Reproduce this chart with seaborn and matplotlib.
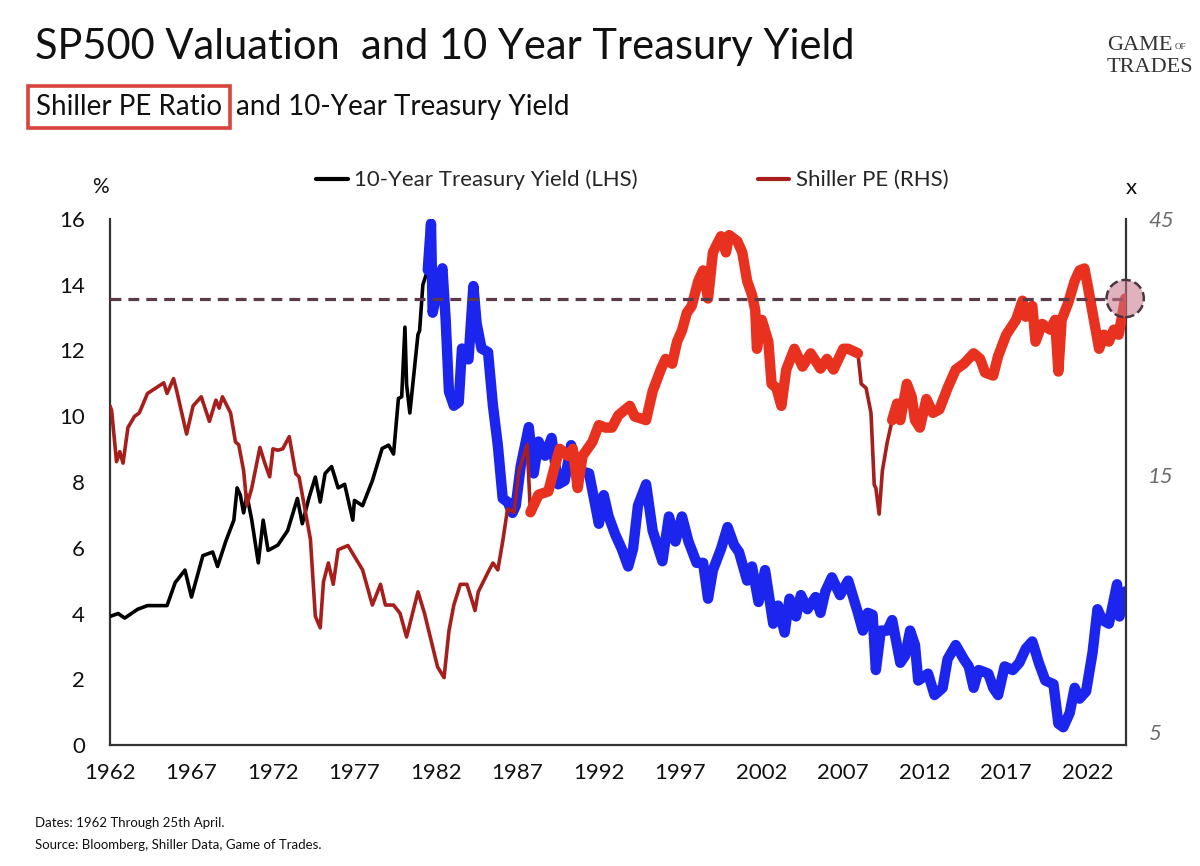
import numpy as np
import pandas as pd
import matplotlib
matplotlib.use("Agg")
import matplotlib.pyplot as plt
import seaborn as sns
from matplotlib.lines import Line2D
from matplotlib.ticker import FixedLocator, FixedFormatter, NullLocator

# ---------------- data ----------------
yield_years = [1962.0, 1962.5, 1962.9, 1963.7, 1964.3, 1965.5, 1966.0, 1966.6, 1967.0, 1967.7,
               1968.3, 1968.6, 1969.1, 1969.6, 1969.8, 1970.0, 1970.2, 1970.4, 1970.7, 1971.1,
               1971.4, 1971.7, 1972.3, 1972.9, 1973.5, 1973.8, 1974.2, 1974.4, 1974.6, 1974.9,
               1975.2, 1975.6, 1976.0, 1976.4, 1976.9, 1977.0, 1977.5, 1978.1, 1978.7, 1979.1,
               1979.4, 1979.7, 1979.9, 1980.1, 1980.2, 1980.4, 1980.9, 1981.0, 1981.2, 1981.5,
               1981.7, 1981.8, 1982.1, 1982.4, 1982.6, 1982.8, 1983.1, 1983.4, 1983.6, 1984.0,
               1984.3, 1984.5, 1984.8, 1985.2, 1985.5, 1985.8, 1986.1, 1986.4, 1986.7, 1986.9,
               1987.2, 1987.7, 1988.0, 1988.3, 1988.7, 1989.1, 1989.5, 1989.9, 1990.3, 1990.7,
               1991.4, 1991.7, 1992.0, 1992.3, 1992.6, 1993.0, 1993.4, 1993.8, 1994.1, 1994.4,
               1994.9, 1995.3, 1995.9, 1996.3, 1996.7, 1997.1, 1997.5, 1998.0, 1998.4, 1998.7,
               1999.0, 1999.5, 1999.9, 2000.3, 2000.6, 2001.1, 2001.4, 2001.8, 2002.2, 2002.7,
               2003.0, 2003.4, 2003.7, 2004.1, 2004.4, 2004.8, 2005.3, 2005.6, 2005.9, 2006.3,
               2006.8, 2007.3, 2007.9, 2008.2, 2008.5, 2008.8, 2009.0, 2009.3, 2009.7, 2010.0,
               2010.5, 2010.8, 2011.1, 2011.4, 2011.6, 2012.2, 2012.6, 2013.1, 2013.4, 2013.9,
               2014.4, 2014.7, 2015.0, 2015.3, 2015.6, 2015.9, 2016.2, 2016.5, 2016.9, 2017.4,
               2017.8, 2018.2, 2018.6, 2019.0, 2019.4, 2019.9, 2020.2, 2020.5, 2020.9, 2021.2,
               2021.5, 2021.9, 2022.3, 2022.6, 2022.9, 2023.3, 2023.8, 2023.95, 2024.3]
yield_values = [3.91, 4.00, 3.86, 4.13, 4.24, 4.24, 4.94, 5.32, 4.50, 5.76,
                5.87, 5.43, 6.19, 6.84, 7.82, 7.60, 7.06, 7.60, 6.84, 5.54,
                6.84, 5.92, 6.08, 6.52, 7.50, 6.73, 7.50, 7.82, 8.15, 7.39,
                8.26, 8.47, 7.82, 7.93, 6.84, 7.44, 7.28, 8.04, 9.02, 9.12,
                8.85, 10.54, 10.59, 12.71, 10.97, 10.10, 12.49, 12.60, 14.00, 14.45,
                15.86, 13.15, 13.90, 14.50, 12.93, 10.75, 10.32, 10.43, 12.06, 11.73,
                13.96, 12.82, 12.06, 11.95, 10.32, 9.12, 7.50, 7.39, 7.06, 7.28,
                8.47, 9.67, 8.26, 9.23, 8.80, 9.34, 7.93, 8.04, 9.12, 8.36,
                8.26, 7.50, 6.73, 7.60, 6.95, 6.41, 5.97, 5.43, 5.97, 7.28,
                7.93, 6.52, 5.59, 6.95, 6.19, 6.95, 6.19, 5.54, 5.54, 4.45,
                5.32, 5.97, 6.63, 6.08, 5.87, 5.00, 5.43, 4.35, 5.32, 3.69,
                4.24, 3.42, 4.45, 3.91, 4.56, 4.13, 4.50, 4.02, 4.67, 5.10,
                4.56, 5.00, 4.02, 3.48, 4.02, 3.96, 2.28, 3.48, 3.48, 3.80,
                2.50, 2.72, 3.48, 3.04, 1.96, 2.17, 1.52, 1.74, 2.61, 3.04,
                2.61, 2.39, 1.74, 2.28, 2.23, 2.17, 1.74, 1.52, 2.39, 2.28,
                2.50, 2.93, 3.15, 2.50, 1.96, 1.85, 0.65, 0.54, 0.98, 1.74,
                1.41, 1.63, 2.82, 4.13, 3.80, 3.69, 4.89, 3.91, 4.67]

pe_years = [1962.0, 1962.1, 1962.4, 1962.6, 1962.8, 1963.1, 1963.5, 1963.8, 1964.3, 1964.8,
            1965.3, 1965.5, 1965.9, 1966.1, 1966.7, 1967.1, 1967.6, 1968.1, 1968.5, 1968.7,
            1968.9, 1969.4, 1969.7, 1969.9, 1970.2, 1970.4, 1970.7, 1971.2, 1971.5, 1971.8,
            1972.0, 1972.3, 1972.6, 1973.0, 1973.4, 1973.6, 1974.0, 1974.3, 1974.6, 1974.9,
            1975.1, 1975.4, 1975.7, 1976.0, 1976.6, 1977.0, 1977.5, 1978.1, 1978.6, 1978.9,
            1979.4, 1979.8, 1980.2, 1980.9, 1981.3, 1981.8, 1982.1, 1982.5, 1982.8, 1983.1,
            1983.5, 1983.9, 1984.2, 1984.4, 1984.6, 1985.2, 1985.5, 1985.8, 1986.1, 1986.4,
            1986.8, 1987.1, 1987.6, 1987.8, 1988.3, 1988.9, 1989.3, 1989.6, 1990.1, 1990.4,
            1990.7, 1991.0, 1991.6, 1992.0, 1992.4, 1992.8, 1993.2, 1993.9, 1994.2, 1994.9,
            1995.3, 1995.8, 1996.1, 1996.5, 1996.8, 1997.1, 1997.4, 1997.7, 1998.1, 1998.4,
            1998.7, 1999.0, 1999.5, 1999.8, 2000.0, 2000.5, 2000.8, 2001.1, 2001.4, 2001.6,
            2001.7, 2002.0, 2002.4, 2002.6, 2002.9, 2003.2, 2003.5, 2004.0, 2004.5, 2005.0,
            2005.6, 2006.0, 2006.4, 2007.0, 2007.3, 2007.9, 2008.1, 2008.4, 2008.7, 2008.9,
            2009.0, 2009.2, 2009.4, 2009.7, 2010.0, 2010.3, 2010.5, 2010.9, 2011.2, 2011.4,
            2011.7, 2012.1, 2012.5, 2012.9, 2013.4, 2013.9, 2014.4, 2015.0, 2015.4, 2015.7,
            2016.2, 2016.5, 2017.0, 2017.6, 2018.0, 2018.2, 2018.6, 2018.8, 2019.2, 2019.7,
            2020.0, 2020.2, 2020.4, 2020.8, 2021.2, 2021.5, 2021.8, 2022.0, 2022.3, 2022.7,
            2023.0, 2023.3, 2023.6, 2023.9, 2024.3]
pe_values = [20.2, 19.8, 15.9, 16.6, 15.8, 18.4, 19.3, 19.6, 21.3, 21.8,
             22.3, 21.3, 22.7, 21.5, 17.9, 20.2, 21.0, 18.9, 20.7, 20.0,
             21.0, 19.6, 17.3, 17.1, 15.3, 13.2, 14.2, 16.9, 15.8, 14.9,
             16.8, 16.7, 16.8, 17.7, 15.1, 14.9, 12.8, 11.4, 8.2, 7.8,
             9.5, 10.3, 9.4, 10.9, 11.1, 10.6, 10.0, 8.6, 9.4, 8.6,
             8.6, 8.3, 7.5, 9.1, 8.3, 7.2, 6.6, 6.3, 7.7, 8.6,
             9.4, 9.4, 8.8, 8.4, 9.1, 9.9, 10.3, 10.0, 11.3, 13.0,
             12.8, 15.3, 17.1, 12.8, 13.8, 14.0, 15.6, 16.8, 16.3, 16.8,
             14.2, 16.3, 17.3, 18.6, 18.4, 18.4, 19.4, 20.2, 19.3, 19.0,
             21.5, 23.6, 24.7, 24.2, 26.6, 27.9, 30.1, 31.0, 34.5, 36.1,
             32.0, 39.0, 41.8, 39.0, 42.0, 40.9, 39.0, 34.5, 32.5, 30.4,
             25.8, 29.2, 26.6, 22.2, 21.8, 20.2, 23.6, 25.8, 23.9, 25.3,
             23.7, 24.7, 23.6, 25.8, 25.8, 25.3, 22.2, 21.8, 19.6, 14.4,
             14.2, 12.7, 15.3, 17.3, 19.0, 20.4, 19.0, 22.2, 21.0, 19.0,
             18.4, 20.8, 19.6, 19.9, 21.8, 23.6, 24.2, 25.3, 24.7, 23.3,
             23.0, 25.0, 27.4, 29.2, 31.7, 29.6, 31.0, 26.6, 28.7, 28.0,
             29.2, 23.4, 29.2, 31.4, 34.5, 36.1, 36.4, 33.8, 30.1, 25.8,
             27.4, 26.6, 28.0, 27.4, 32.0]

x_tick_years = [1962, 1967, 1972, 1977, 1982, 1987, 1992, 1997, 2002, 2007, 2012, 2017, 2022]
left_ticks = [0, 2, 4, 6, 8, 10, 12, 14, 16]
right_ticks = [5, 15, 45]

yield_highlight_start = 1981.5
pe_highlight_periods = [(1987.8, 2007.9), (2010.0, 2024.3)]

title = "SP500 Valuation  and 10 Year Treasury Yield"
subtitle_boxed = "Shiller PE Ratio"
subtitle_rest = "and 10-Year Treasury Yield"
legend_labels = ["10-Year Treasury Yield (LHS)", "Shiller PE (RHS)"]
footnotes = ["Dates: 1962 Through 25th April.", "Source: Bloomberg, Shiller Data, Game of Trades."]

# ---------------- style ----------------
BLACK = "#000000"
BLUE = "#1b25ee"
DARKRED = "#a61f1c"
RED = "#e8311f"
DASH = "#5b3a4a"

sns.set_theme(style="white")
plt.rcParams["font.family"] = ["Lato", "DejaVu Sans"]

W, H = 1200, 866
fig = plt.figure(figsize=(W / 100, H / 100), dpi=100)
ax = fig.add_axes([110 / W, 1 - 745 / H, (1126 - 110) / W, (745 - 219) / H])

ydf = pd.DataFrame({"year": yield_years, "value": yield_values})
pdf = pd.DataFrame({"year": pe_years, "value": pe_values})

# yield (left axis)
sns.lineplot(data=ydf, x="year", y="value", ax=ax, color=BLACK, lw=2.6,
             estimator=None, legend=False, zorder=3)
yhi = ydf[ydf["year"] >= yield_highlight_start]
sns.lineplot(data=yhi, x="year", y="value", ax=ax, color=BLUE, lw=7.5,
             estimator=None, legend=False, zorder=4, solid_capstyle="round",
             solid_joinstyle="round")

ax.set_xlim(1962.0, 2024.35)
ax.set_ylim(0, 16)
ax.set_xlabel("")
ax.set_ylabel("")
ax.set_xticks(x_tick_years)
ax.set_xticklabels([str(y) for y in x_tick_years])
ax.set_yticks(left_ticks)
ax.tick_params(axis="x", length=0, pad=13, labelsize=16, labelcolor="#111111")
ax.tick_params(axis="y", length=0, pad=18, labelsize=16, labelcolor="#111111")

# Shiller PE (right axis, log)
ax2 = ax.twinx()
ax2.set_yscale("log")
sns.lineplot(data=pdf, x="year", y="value", ax=ax2, color=DARKRED, lw=2.6,
             estimator=None, legend=False, zorder=3)
for start, end in pe_highlight_periods:
    seg = pdf[(pdf["year"] >= start) & (pdf["year"] <= end)]
    sns.lineplot(data=seg, x="year", y="value", ax=ax2, color=RED, lw=7.5,
                 estimator=None, legend=False, zorder=4, solid_capstyle="round",
                 solid_joinstyle="round")
ax2.set_ylim(4.72, 45)
ax2.set_xlim(1962.0, 2024.35)
ax2.yaxis.set_major_locator(FixedLocator(right_ticks))
ax2.yaxis.set_major_formatter(FixedFormatter([str(v) for v in right_ticks]))
ax2.yaxis.set_minor_locator(NullLocator())
ax2.set_ylabel("")
ax2.tick_params(axis="y", which="both", length=0, pad=16, labelsize=16,
                labelcolor="#6b6b6b")
for lab in ax2.get_yticklabels():
    lab.set_fontstyle("italic")

# current-valuation marker
last_year, last_pe = pe_years[-1], pe_values[-1]
ax2.axhline(last_pe, color=DASH, lw=2.3, dashes=(3.4, 2.2), zorder=6)
ax2.scatter([last_year], [last_pe], s=720, facecolor=(0.78, 0.45, 0.54, 0.55),
            edgecolor="#4a3540", linewidths=1.8, linestyle="--", zorder=7, clip_on=False)

for a in (ax, ax2):
    a.spines["top"].set_visible(False)
    for s in ("left", "right", "bottom"):
        a.spines[s].set_color("#333333")
        a.spines[s].set_linewidth(1.6)
    a.grid(False)
ax.spines["right"].set_visible(False)
ax2.spines["left"].set_visible(False)
ax2.spines["bottom"].set_visible(False)

# axis unit labels
fig.text(100 / W, 1 - 187 / H, "%", ha="center", va="center", fontsize=15, color="#111111")
fig.text(1131 / W, 1 - 188 / H, "x", ha="center", va="center", fontsize=16, color="#111111")

# legend
handles = [Line2D([0], [0], color=BLACK, lw=3), Line2D([0], [0], color=DARKRED, lw=3)]
fig.legend(handles, legend_labels, loc="center", bbox_to_anchor=(0.527, 1 - 180 / H),
           ncol=2, frameon=False, fontsize=16, handlelength=1.4, handletextpad=0.3,
           columnspacing=5.4)

# titles
fig.text(35 / W, 1 - 47 / H, title, ha="left", va="center", fontsize=30, color="#111111")
fig.text(36 / W, 1 - 107 / H, subtitle_boxed, ha="left", va="center", fontsize=20,
         color="#111111",
         bbox=dict(boxstyle="square,pad=0.3", fc="none", ec="#d8433c", lw=2.6))
fig.text(236 / W, 1 - 107 / H, subtitle_rest, ha="left", va="center", fontsize=20,
         color="#111111")

# footnotes
fig.text(35 / W, 1 - 823 / H, footnotes[0], ha="left", va="center", fontsize=9.5, color="#111111")
fig.text(35 / W, 1 - 845 / H, footnotes[1], ha="left", va="center", fontsize=9.5, color="#111111")

# logo text
serif = ["Liberation Serif", "DejaVu Serif"]
fig.text(1107 / W, 1 - 46 / H, "GAME", ha="left", va="center", fontsize=16, family=serif, color="#333333")
fig.text(1175 / W, 1 - 47 / H, "OF", ha="left", va="center", fontsize=6.5, family=serif, color="#333333")
fig.text(1107 / W, 1 - 68 / H, "TRADES", ha="left", va="center", fontsize=16, family=serif, color="#333333")

fig.savefig("out.png", dpi=100, facecolor="white")
